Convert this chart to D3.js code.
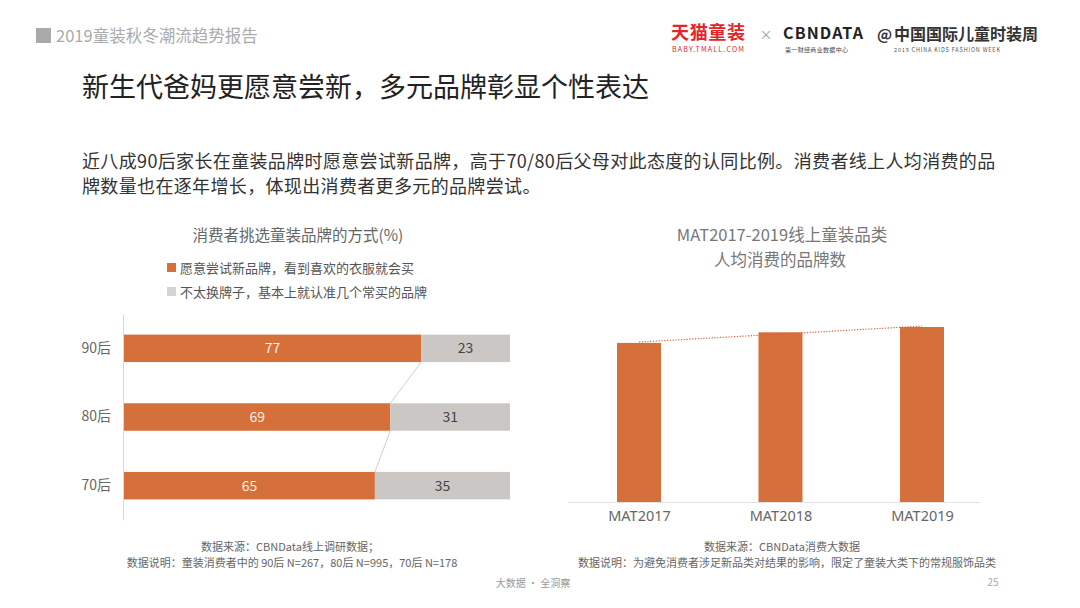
<!DOCTYPE html>
<html>
<head>
<meta charset="utf-8">
<script src="https://cdn.jsdelivr.net/npm/d3@7"></script>
<style>
  html, body { margin: 0; padding: 0; background: #fff; }
  svg { display: block; font-family: "Noto Sans CJK SC", "Noto Sans", sans-serif; }
</style>
</head>
<body>
<svg id="chart" width="1080" height="608"></svg>
<script>
// left chart: how consumers choose brands (%)
const generations = ['90后', '80后', '70后'];
const tryNew = [77, 69, 65];
const stayLoyal = [23, 31, 35];
const legendLabels = ['愿意尝试新品牌，看到喜欢的衣服就会买', '不太换牌子，基本上就认准几个常买的品牌'];

// right chart: brands bought per consumer
const years = ['MAT2017', 'MAT2018', 'MAT2019'];
const brandCount = [3.0, 3.2, 3.3];

const ORANGE = '#d5703a',
      GREY = '#cac7c4';

const svg = d3.select('#chart');

// ---- page header ----
svg.append('rect').attr('x', 36).attr('y', 28).attr('width', 15).attr('height', 15).attr('fill', '#aaa');
svg.append('text').attr('x', 56).attr('y', 42).attr('font-size', 16.5).attr('fill', '#aaa')
   .text('2019童装秋冬潮流趋势报告');

// logos
svg.append('text').attr('x', 671).attr('y', 39).attr('font-size', 18).attr('font-weight', 'bold')
   .attr('fill', '#e3262b').attr('textLength', 74).text('天猫童装');
svg.append('text').attr('x', 672).attr('y', 52).attr('font-size', 7).attr('fill', '#e3262b')
   .attr('textLength', 72).text('BABY.TMALL.COM');
svg.append('text').attr('x', 766).attr('y', 39).attr('font-size', 13).attr('fill', '#999')
   .attr('text-anchor', 'middle').text('×');
svg.append('text').attr('x', 783).attr('y', 39).attr('font-size', 16).attr('font-weight', 'bold')
   .attr('fill', '#222').attr('textLength', 80).text('CBNDATA');
svg.append('text').attr('x', 785).attr('y', 52).attr('font-size', 6).attr('fill', '#444')
   .attr('textLength', 63).text('第一财经商业数据中心');
svg.append('text').attr('x', 877).attr('y', 40).attr('font-size', 15).attr('font-weight', 'bold')
   .attr('fill', '#333').text('@');
svg.append('text').attr('x', 894).attr('y', 40).attr('font-size', 16).attr('font-weight', 'bold')
   .attr('fill', '#333').attr('textLength', 144).text('中国国际儿童时装周');
svg.append('text').attr('x', 894).attr('y', 52).attr('font-size', 5.5).attr('fill', '#555')
   .attr('textLength', 106).text('2019 CHINA KIDS FASHION WEEK');

// title + intro
svg.append('text').attr('x', 82).attr('y', 97).attr('font-size', 27).attr('fill', '#222')
   .text('新生代爸妈更愿意尝新，多元品牌彰显个性表达');
svg.append('text').attr('x', 82).attr('y', 168).attr('font-size', 18).attr('fill', '#333')
   .attr('letter-spacing', 0.35)
   .text('近八成90后家长在童装品牌时愿意尝试新品牌，高于70/80后父母对此态度的认同比例。消费者线上人均消费的品');
svg.append('text').attr('x', 82).attr('y', 193).attr('font-size', 18).attr('fill', '#333')
   .attr('letter-spacing', 0.35)
   .text('牌数量也在逐年增长，体现出消费者更多元的品牌尝试。');

// ---- left chart ----
const x = d3.scaleLinear().domain([0, 100]).range([124, 510]);
const y = d3.scaleBand().domain(generations).range([314, 520]).paddingInner(0.6).paddingOuter(0.3);

svg.append('text').attr('x', 298).attr('y', 241).attr('font-size', 15.5).attr('fill', '#666')
   .attr('text-anchor', 'middle').text('消费者挑选童装品牌的方式(%)');

const legend = svg.append('g').selectAll('g').data(legendLabels).enter().append('g')
   .attr('transform', (d, i) => 'translate(167,' + (268 + i * 24) + ')');
legend.append('rect').attr('x', 0).attr('y', -5).attr('width', 9).attr('height', 9)
   .attr('fill', (d, i) => i === 0 ? ORANGE : '#d6d4d2');
legend.append('text').attr('x', 13).attr('y', 5).attr('font-size', 13).attr('fill', '#555').text(d => d);

const rows = generations.map((g, i) => ({ g, a: tryNew[i], b: stayLoyal[i] }));

svg.selectAll('rect.new').data(rows).enter().append('rect')
   .attr('x', x(0)).attr('y', d => y(d.g))
   .attr('width', d => x(d.a) - x(0)).attr('height', y.bandwidth())
   .attr('fill', ORANGE);
svg.selectAll('rect.loyal').data(rows).enter().append('rect')
   .attr('x', d => x(d.a)).attr('y', d => y(d.g))
   .attr('width', d => x(d.a + d.b) - x(d.a)).attr('height', y.bandwidth())
   .attr('fill', GREY);

// connectors between the segment boundaries
svg.selectAll('line.link').data(rows.slice(0, -1)).enter().append('line')
   .attr('x1', d => x(d.a)).attr('y1', d => y(d.g) + y.bandwidth())
   .attr('x2', (d, i) => x(rows[i + 1].a)).attr('y2', (d, i) => y(rows[i + 1].g))
   .attr('stroke', '#cfcfcf').attr('stroke-width', 1);

svg.selectAll('text.va').data(rows).enter().append('text')
   .attr('x', d => (x(0) + x(d.a)) / 2).attr('y', d => y(d.g) + y.bandwidth() / 2 + 5)
   .attr('text-anchor', 'middle').attr('font-size', 14).attr('fill', '#fdeee2')
   .text(d => d.a);
svg.selectAll('text.vb').data(rows).enter().append('text')
   .attr('x', d => (x(d.a) + x(100)) / 2).attr('y', d => y(d.g) + y.bandwidth() / 2 + 5)
   .attr('text-anchor', 'middle').attr('font-size', 14).attr('fill', '#444')
   .text(d => d.b);

const yAxis = svg.append('g').attr('transform', 'translate(' + (x(0) - 1) + ',0)')
   .call(d3.axisLeft(y).tickSize(0).tickPadding(12));
yAxis.select('.domain').attr('stroke', '#d8d8d8');
yAxis.selectAll('text').attr('font-size', 14).attr('fill', '#666')
   .attr('font-family', '"Noto Sans CJK SC", sans-serif');

// ---- right chart ----
const bx = d3.scalePoint().domain(years).range([639, 922]);
const by = d3.scaleLinear().domain([0, 3.3]).range([502, 327]);
const barW = 44;

svg.append('text').attr('x', 782).attr('y', 241).attr('font-size', 16.5).attr('fill', '#777')
   .attr('text-anchor', 'middle').text('MAT2017-2019线上童装品类');
svg.append('text').attr('x', 780).attr('y', 266).attr('font-size', 16.5).attr('fill', '#777')
   .attr('text-anchor', 'middle').text('人均消费的品牌数');

svg.selectAll('rect.yr').data(years).enter().append('rect')
   .attr('x', d => bx(d) - barW / 2).attr('y', (d, i) => by(brandCount[i]))
   .attr('width', barW).attr('height', (d, i) => by(0) - by(brandCount[i]))
   .attr('fill', ORANGE);

svg.append('line').attr('x1', 568).attr('x2', 980).attr('y1', by(0) + 0.5).attr('y2', by(0) + 0.5)
   .attr('stroke', '#e2e2e2').attr('stroke-width', 1);

// linear trend over the three bars
const n = brandCount.length,
      mx = (n - 1) / 2,
      my = d3.mean(brandCount),
      slope = d3.sum(brandCount, (v, i) => (i - mx) * (v - my)) / d3.sum(brandCount, (v, i) => (i - mx) * (i - mx)),
      trend = years.map((yr, i) => [bx(yr), by(my + slope * (i - mx))]);
svg.append('path').attr('d', d3.line()([trend[0], trend[n - 1]]))
   .attr('fill', 'none').attr('stroke', '#d9603b').attr('stroke-width', 1.2)
   .attr('stroke-dasharray', '1.2,1.6');

const xAxis = svg.append('g').attr('transform', 'translate(0,' + by(0) + ')')
   .call(d3.axisBottom(bx).tickSize(0).tickPadding(9));
xAxis.select('.domain').remove();
xAxis.selectAll('text').attr('font-size', 14.5).attr('fill', '#666')
   .attr('font-family', '"Noto Sans", sans-serif');

// ---- footnotes ----
const note = (tx, ty, s, size) => svg.append('text').attr('x', tx).attr('y', ty)
   .attr('font-size', size || 11).attr('fill', '#666').attr('text-anchor', 'middle').text(s);
note(290, 551, '数据来源：CBNData线上调研数据；');
note(292, 567, '数据说明：童装消费者中的 90后 N=267，80后 N=995，70后 N=178');
note(782, 551, '数据来源：CBNData消费大数据');
note(787, 567, '数据说明：为避免消费者涉足新品类对结果的影响，限定了童装大类下的常规服饰品类');
note(533, 587, '大数据 · 全洞察', 10).attr('fill', '#999');
note(993, 586, '25', 10).attr('fill', '#aaa');
</script>
</body>
</html>
